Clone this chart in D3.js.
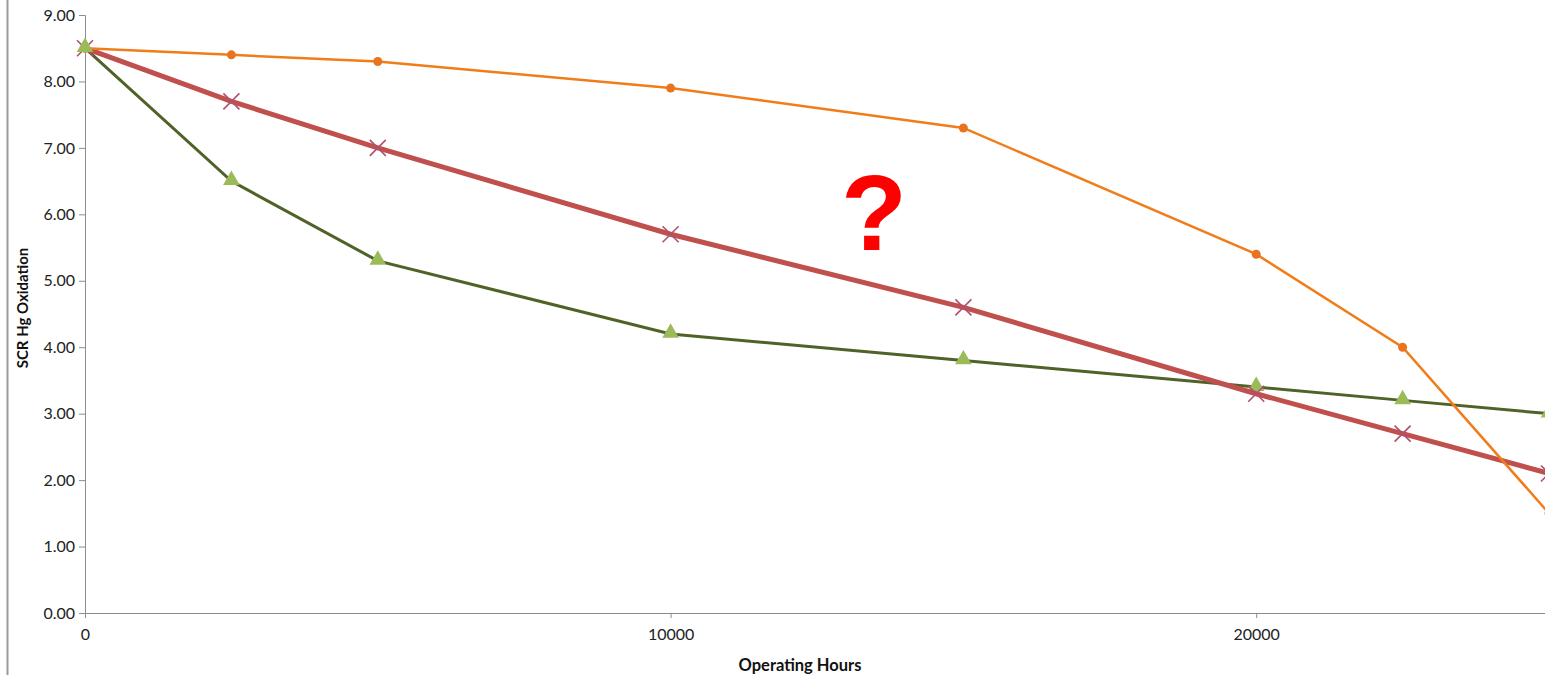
<!DOCTYPE html>
<html>
<head>
<meta charset="utf-8">
<script src="https://cdn.jsdelivr.net/npm/d3@7/dist/d3.min.js"></script>
<style>
  html, body { margin: 0; padding: 0; background: #ffffff; }
  svg { display: block; }
</style>
</head>
<body>
<svg id="chart" width="1545" height="675"></svg>
<script>
// Operating hours sampled for each series
const hours = [0, 2500, 5000, 10000, 15000, 20000, 22500, 25000];

// SCR Hg oxidation per catalyst scenario
const seriesOrange = [8.5, 8.4, 8.3, 7.9, 7.3, 5.4, 4.0, 1.5];
const seriesRed    = [8.5, 7.7, 7.0, 5.7, 4.6, 3.3, 2.7, 2.1];
const seriesGreen  = [8.5, 6.5, 5.3, 4.2, 3.8, 3.4, 3.2, 3.0];

// Axis tick values
const yTicks = [0, 1, 2, 3, 4, 5, 6, 7, 8, 9];
const xTicks = [0, 10000, 20000];

const svg = d3.select("#chart");
const font = "Lato, 'Open Sans', 'Liberation Sans', sans-serif";

const x = d3.scaleLinear().domain([0, 25000]).range([85, 1549]);
const y = d3.scaleLinear().domain([0, 9]).range([613, 15]);

// outer frame edge on the left
svg.append("line")
  .attr("x1", 7.5).attr("x2", 7.5).attr("y1", 0).attr("y2", 675)
  .attr("stroke", "#9a9a9a").attr("stroke-width", 2);

// Y axis
const yAxis = svg.append("g").attr("transform", `translate(${x(0)},0)`)
  .call(d3.axisLeft(y).tickValues(yTicks).tickSize(6).tickPadding(4)
    .tickFormat(d3.format(".2f")));
yAxis.select(".domain").attr("stroke", "#8c8c8c");
yAxis.selectAll(".tick line").attr("stroke", "#8c8c8c");
yAxis.selectAll(".tick text").attr("font-family", font).attr("font-size", 16)
  .attr("fill", "#222");

// X axis
const xAxis = svg.append("g").attr("transform", `translate(0,${y(0)})`)
  .call(d3.axisBottom(x).tickValues(xTicks).tickSize(5).tickPadding(11)
    .tickFormat(d3.format("d")));
xAxis.select(".domain").attr("stroke", "#8c8c8c");
xAxis.selectAll(".tick line").attr("stroke", "#8c8c8c");
xAxis.selectAll(".tick text").attr("font-family", font).attr("font-size", 16)
  .attr("fill", "#222");

// axis titles
svg.append("text")
  .attr("x", 800).attr("y", 671)
  .attr("text-anchor", "middle")
  .attr("font-family", font).attr("font-size", 16.5).attr("font-weight", "bold")
  .attr("fill", "#111")
  .text("Operating Hours");

svg.append("text")
  .attr("transform", "translate(28,308) rotate(-90)")
  .attr("text-anchor", "middle")
  .attr("font-family", font).attr("font-size", 15).attr("font-weight", "bold")
  .attr("fill", "#111")
  .text("SCR Hg Oxidation");

const line = d3.line()
  .x((d, i) => x(hours[i]))
  .y(d => y(d));

const plot = svg.append("g");

// green series with triangle markers
plot.append("path").datum(seriesGreen)
  .attr("d", line).attr("fill", "none")
  .attr("stroke", "#4f6228").attr("stroke-width", 3);
plot.selectAll(".tri").data(seriesGreen).enter().append("path")
  .attr("class", "tri")
  .attr("d", d3.symbol().type(d3.symbolTriangle).size(120))
  .attr("transform", (d, i) => `translate(${x(hours[i])},${y(d) - 1})`)
  .attr("fill", "#9bbb59");

// red series with cross markers
plot.append("path").datum(seriesRed)
  .attr("d", line).attr("fill", "none")
  .attr("stroke", "#c0504d").attr("stroke-width", 5);
plot.selectAll(".cross").data(seriesRed).enter().append("path")
  .attr("class", "cross")
  .attr("d", "M-8,-8L8,8M-8,8L8,-8")
  .attr("transform", (d, i) => `translate(${x(hours[i])},${y(d)})`)
  .attr("stroke", "#b0506e").attr("stroke-width", 1.6).attr("fill", "none");

// orange series with round markers
plot.append("path").datum(seriesOrange)
  .attr("d", line).attr("fill", "none")
  .attr("stroke", "#f07d1a").attr("stroke-width", 2.5);
plot.selectAll(".dot").data(seriesOrange).enter().append("circle")
  .attr("class", "dot")
  .attr("cx", (d, i) => x(hours[i]))
  .attr("cy", d => y(d))
  .attr("r", 4.5)
  .attr("fill", "#e87420");

// bring the first green triangle above the other series
plot.selectAll(".tri").filter((d, i) => i === 0).raise();

// question mark annotation
svg.append("text")
  .attr("x", 874).attr("y", 250)
  .attr("text-anchor", "middle")
  .attr("font-family", "'Liberation Sans', Arial, sans-serif")
  .attr("font-size", 108).attr("font-weight", "bold")
  .attr("fill", "#ff0000")
  .text("?");
</script>
</body>
</html>
